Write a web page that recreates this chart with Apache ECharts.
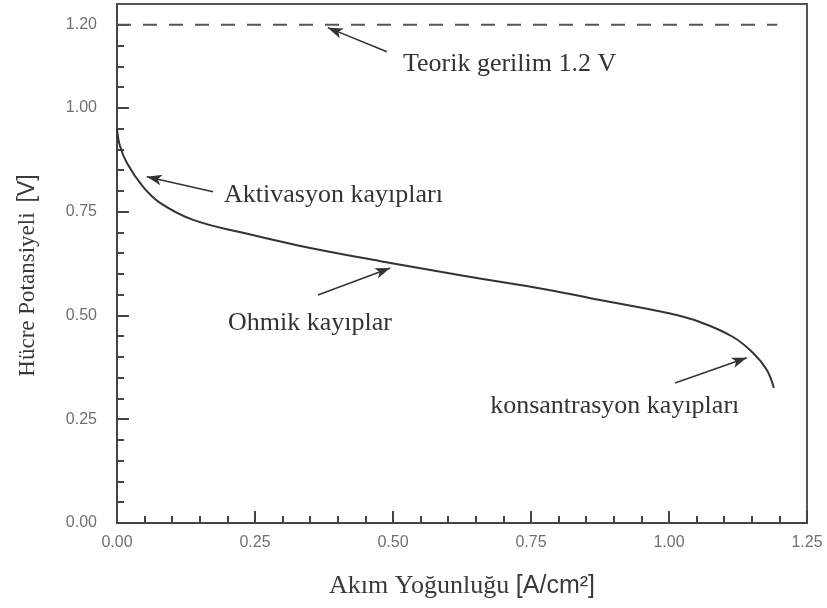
<!DOCTYPE html>
<html>
<head>
<meta charset="utf-8">
<script src="https://cdn.jsdelivr.net/npm/echarts@6/dist/echarts.min.js"></script>
<style>
  html, body { margin: 0; padding: 0; background: #fff; }
  #chart { width: 827px; height: 608px; }
</style>
</head>
<body>
<div id="chart"></div>
<script>
// Polarisation curve of a fuel cell: current density vs. cell potential
const currentDensity = [0, 0.005, 0.018, 0.047, 0.078, 0.138, 0.228, 0.33, 0.48, 0.63, 0.78, 0.875, 1.0, 1.056, 1.116, 1.152, 1.177, 1.19];
const cellPotential  = [0.95, 0.91, 0.867, 0.81, 0.771, 0.73, 0.699, 0.668, 0.63, 0.595, 0.562, 0.537, 0.505, 0.484, 0.448, 0.41, 0.369, 0.325];

// Theoretical (reversible) voltage
const theoreticalV = 1.2;
const theoreticalSpan = [0, 1.196];

// Axis ranges / tick steps
const xRange = [0, 1.25];
const yRange = [0, 1.25];
const tickStep = 0.25;
// Labelled values on the potential axis (the top one marks the theoretical voltage)
const yLabelValues = [0, 0.25, 0.5, 0.75, 1.0, 1.2];

// Annotation texts with their anchor (left-middle) and arrow [from, to] in data units
const notes = [
  { text: 'Teorik gerilim 1.2 V',     at: [0.518, 1.106], arrow: [[0.489, 1.135], [0.382, 1.193]] },
  { text: 'Aktivasyon kayıpları',     at: [0.194, 0.790], arrow: [[0.174, 0.798], [0.054, 0.834]] },
  { text: 'Ohmik kayıplar',           at: [0.201, 0.482], arrow: [[0.364, 0.549], [0.495, 0.614]] },
  { text: 'konsantrasyon kayıpları',  at: [0.676, 0.281], arrow: [[1.011, 0.337], [1.141, 0.398]] }
];

const curve = currentDensity.map((x, i) => [x, cellPotential[i]]);

const chart = echarts.init(document.getElementById('chart'), null, { renderer: 'canvas' });

const axisCommon = {
  type: 'value',
  interval: tickStep,
  axisLine: { show: true, lineStyle: { color: '#444', width: 2 } },
  axisTick: { show: true, inside: true, length: 12, lineStyle: { color: '#444', width: 2 } },
  minorTick: { show: true, splitNumber: 5, length: 7, lineStyle: { color: '#444', width: 2 } },
  splitLine: { show: false },
  axisLabel: {
    color: '#707070', fontFamily: 'Liberation Sans, Arial', fontSize: 16,
    formatter: v => Number(v).toFixed(2)
  }
};

chart.setOption({
  animation: false,
  backgroundColor: '#fff',
  grid: {
    left: 117, right: 20, top: 4, bottom: 85,
    show: true, borderColor: '#555', borderWidth: 2, backgroundColor: 'transparent'
  },
  xAxis: Object.assign({}, axisCommon, {
    min: xRange[0], max: xRange[1],
    axisLabel: Object.assign({}, axisCommon.axisLabel, { margin: 12 }),
    name: '{a|Akım Yoğunluğu}  {b|[A/cm²]}',
    nameLocation: 'middle',
    nameGap: 50,
    nameTextStyle: {
      rich: {
        a: { fontFamily: 'Liberation Serif, Times New Roman', fontSize: 26, color: '#3a3a3a' },
        b: { fontFamily: 'Liberation Sans, Arial', fontSize: 25, color: '#3a3a3a' }
      }
    }
  }),
  yAxis: Object.assign({}, axisCommon, {
    min: yRange[0], max: yRange[1],
    axisTick: Object.assign({}, axisCommon.axisTick, { customValues: yLabelValues }),
    axisLabel: Object.assign({}, axisCommon.axisLabel, { margin: 20, customValues: yLabelValues }),
    name: '{a|Hücre Potansiyeli}   {b|[V]}',
    nameLocation: 'middle',
    nameGap: 78,
    nameTextStyle: {
      padding: [0, 24, 0, 0],
      rich: {
        a: { fontFamily: 'Liberation Serif, Times New Roman', fontSize: 23, color: '#3a3a3a' },
        b: { fontFamily: 'Liberation Sans, Arial', fontSize: 23, color: '#3a3a3a' }
      }
    }
  }),
  series: [
    {
      name: 'theoretical',
      type: 'line',
      data: theoreticalSpan.map(x => [x, theoreticalV]),
      symbol: 'none',
      lineStyle: { color: '#555', width: 2, type: [14, 12] },
      silent: true
    },
    {
      name: 'polarisation',
      type: 'line',
      data: curve,
      smooth: 0.4,
      symbol: 'none',
      lineStyle: { color: '#333', width: 2 },
      silent: true,
      markLine: {
        silent: true,
        symbol: ['none', 'arrow'],
        symbolSize: [8, 15],
        label: { show: false },
        lineStyle: { color: '#333', width: 1.5, type: 'solid' },
        data: notes.map(n => [{ coord: n.arrow[0] }, { coord: n.arrow[1] }])
      }
    }
  ]
});

// Annotation texts placed through the chart's own coordinate conversion
chart.setOption({
  graphic: notes.map(n => {
    const p = chart.convertToPixel({ gridIndex: 0 }, n.at);
    return {
      type: 'text',
      x: p[0], y: p[1],
      silent: true,
      style: {
        text: n.text,
        fill: '#333',
        font: '26px "Liberation Serif", "Times New Roman", serif',
        textAlign: 'left',
        textVerticalAlign: 'middle'
      }
    };
  })
});
</script>
</body>
</html>
